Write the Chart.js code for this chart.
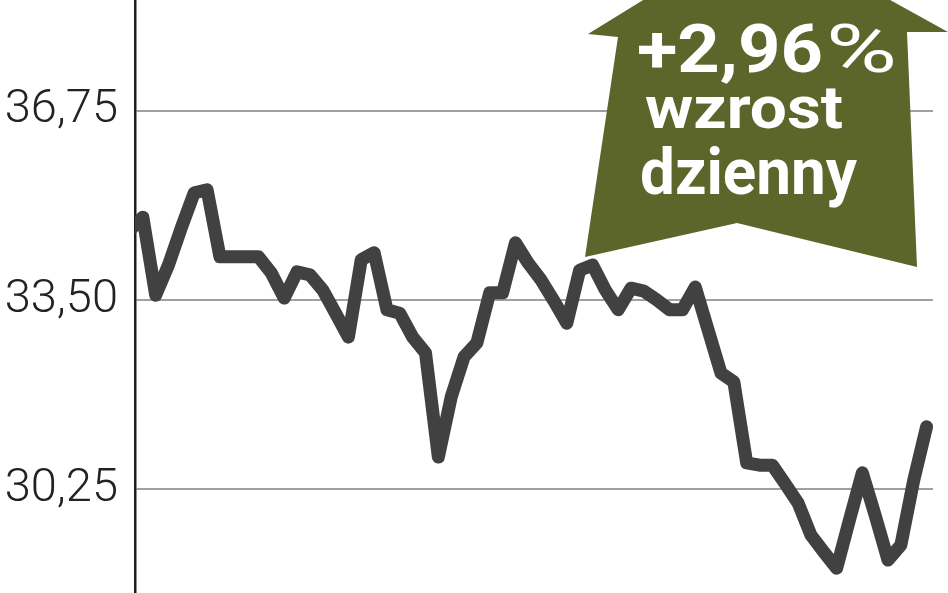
<!DOCTYPE html>
<html>
<head>
<meta charset="utf-8">
<script src="https://cdn.jsdelivr.net/npm/chart.js@4/dist/chart.umd.min.js"></script>
<style>
html,body{margin:0;padding:0;background:#fff;}
#wrap{width:948px;height:593px;position:relative;}
</style>
</head>
<body>
<div id="wrap"><canvas id="c" width="948" height="593"></canvas></div>
<script>
// ---- data ----
const days = Array.from({length: 63}, (_, i) => i);
const prices = [
  34.70, 34.92, 33.58, 34.10, 34.74, 35.34, 35.39, 34.24, 34.24, 34.24,
  34.24, 33.96, 33.53, 33.98, 33.93, 33.67, 33.27, 32.86, 34.19, 34.31,
  33.33, 33.27, 32.86, 32.59, 30.80, 31.83, 32.52, 32.76, 33.62, 33.62,
  34.48, 34.13, 33.84, 33.48, 33.10, 34.01, 34.10, 33.67, 33.33, 33.70,
  33.65, 33.50, 33.33, 33.33, 33.72, 32.98, 32.24, 32.09, 30.70, 30.66,
  30.66, 30.34, 30.01, 29.46, 29.17, 28.89, 29.72, 30.53, 29.80, 29.03,
  29.29, 30.40, 31.32
];
const yTicks = [30.25, 33.50, 36.75];
const badgeLines = ["+2,96", "%", "wzrost", "dzienny"];

const fmt = v => v.toFixed(2).replace('.', ',');

const arrowPlugin = {
  id: 'arrowBadge',
  afterDatasetsDraw(chart) {
    const ctx = chart.ctx;
    ctx.save();
    ctx.fillStyle = '#5c652a';
    ctx.beginPath();
    ctx.moveTo(760, -72);
    ctx.lineTo(948, 32);
    ctx.lineTo(907, 32);
    ctx.lineTo(917, 267);
    ctx.lineTo(737, 223);
    ctx.lineTo(585, 257);
    ctx.lineTo(618, 37);
    ctx.lineTo(588, 34);
    ctx.closePath();
    ctx.fill();

    ctx.fillStyle = '#ffffff';
    ctx.textBaseline = 'alphabetic';
    ctx.textAlign = 'left';
    function drawFit(text, font, x, baseline, width) {
      ctx.font = font;
      const w = ctx.measureText(text).width;
      ctx.save();
      ctx.translate(x, baseline);
      ctx.scale(width / w, 1);
      ctx.fillText(text, 0, 0);
      ctx.restore();
    }
    drawFit(badgeLines[0], 'bold 66px Roboto', 637, 72, 186);
    drawFit(badgeLines[1], '400 66px Roboto', 826, 72, 71);
    drawFit(badgeLines[2], 'bold 60px Roboto', 645, 128, 198);
    drawFit(badgeLines[3], 'bold 64px Roboto', 640, 194, 217);
    ctx.restore();
  }
};

new Chart(document.getElementById('c'), {
  type: 'line',
  data: {
    labels: days,
    datasets: [{
      data: days.map((d, i) => ({x: d, y: prices[i]})),
      borderColor: '#414141',
      borderWidth: 13,
      pointRadius: 0,
      tension: 0,
      borderJoinStyle: 'round',
      borderCapStyle: 'round',
      clip: 0
    }]
  },
  options: {
    responsive: false,
    animation: false,
    devicePixelRatio: 1,
    layout: {padding: {left: 0, right: 15, top: 0, bottom: 0}},
    plugins: {legend: {display: false}, tooltip: {enabled: false}, title: {display: false}},
    scales: {
      x: {
        type: 'linear',
        display: false,
        min: 0.39,
        max: 62.5
      },
      y: {
        min: 28.465,
        max: 38.65,
        afterBuildTicks: s => { s.ticks = yTicks.map(v => ({value: v})); },
        afterFit: s => { s.width = 135; s.paddingTop = 0; s.paddingBottom = 0; },
        grid: {color: '#a0a0a0', lineWidth: 2, drawTicks: false},
        border: {display: true, color: '#1e1e1e', width: 2.5},
        ticks: {
          padding: 17,
          color: '#222',
          font: {family: 'Roboto', weight: '300', size: 47},
          callback: v => fmt(v)
        }
      }
    }
  },
  plugins: [arrowPlugin]
});
</script>
</body>
</html>
